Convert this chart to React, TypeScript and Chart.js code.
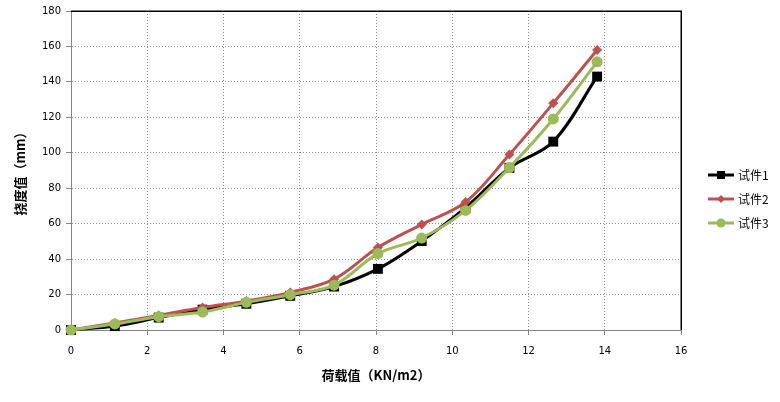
import React, { useEffect, useRef } from 'react';
import { Chart, registerables } from 'chart.js';

Chart.register(...registerables);

// ---- data ----
const loads = [0, 1.15, 2.3, 3.45, 4.6, 5.75, 6.9, 8.05, 9.2, 10.35, 11.5, 12.65, 13.8];
const seriesNames = ['试件1', '试件2', '试件3'];
const specimen1 = [0, 2.2, 7, 11.5, 14.8, 19.3, 24.5, 34.5, 50.2, 69, 91.5, 106.3, 143];
const specimen2 = [0, 4, 8.2, 12.7, 16.3, 21.2, 28.7, 46.5, 59.6, 72.2, 99, 128, 158];
const specimen3 = [0, 3.4, 7.5, 10.1, 15.6, 19.9, 25.3, 43.1, 51.9, 67.5, 91.7, 119.1, 151.3];
const xTitle = '荷载值（KN/m2）';
const yTitle = '挠度值（mm）';
const xMin = 0, xMax = 16, xStep = 2;
const yMin = 0, yMax = 180, yStep = 20;

const colors = ['#000000', '#C0504D', '#9BBB59'];
const styles = ['rect', 'rectRot', 'circle'];
const radii = [7, 5, 5.5];

const toPoints = (ys: number[]) => ys.map((y, i) => ({ x: loads[i], y }));

function drawMarker(ctx: CanvasRenderingContext2D, style: string, x: number, y: number, r: number) {
  ctx.beginPath();
  if (style === 'rect') {
    ctx.rect(x - r, y - r, 2 * r, 2 * r);
  } else if (style === 'rectRot') {
    ctx.moveTo(x, y - r);
    ctx.lineTo(x + r, y);
    ctx.lineTo(x, y + r);
    ctx.lineTo(x - r, y);
    ctx.closePath();
  } else {
    ctx.arc(x, y, r, 0, Math.PI * 2);
  }
  ctx.fill();
}

const framePlugin = {
  id: 'frame',
  beforeDatasetsDraw(chart: any) {
    const { ctx, chartArea } = chart;
    ctx.save();
    ctx.strokeStyle = '#000000';
    ctx.lineWidth = 1.5;
    ctx.beginPath();
    ctx.moveTo(chartArea.left, chartArea.top + 0.25);
    ctx.lineTo(chartArea.right + 0.25, chartArea.top + 0.25);
    ctx.lineTo(chartArea.right + 0.25, chartArea.bottom);
    ctx.stroke();
    ctx.restore();
  },
  afterDraw(chart: any) {
    const { ctx } = chart;
    const rows = [175, 199, 223];
    const markerR = [4, 4, 4.5];
    ctx.save();
    chart.data.datasets.forEach((ds: any, i: number) => {
      const y = rows[i];
      ctx.strokeStyle = ds.borderColor;
      ctx.fillStyle = ds.borderColor;
      ctx.lineWidth = 3;
      ctx.beginPath();
      ctx.moveTo(708, y);
      ctx.lineTo(734, y);
      ctx.stroke();
      drawMarker(ctx, styles[i], 721, y, markerR[i]);
      ctx.fillStyle = '#000000';
      ctx.font = '12px "Noto Sans CJK SC", "DejaVu Sans", sans-serif';
      ctx.textBaseline = 'middle';
      ctx.textAlign = 'left';
      ctx.fillText(ds.label, 738, y);
    });
    ctx.restore();
  },
};

export default function App() {
  const ref = useRef<HTMLCanvasElement | null>(null);

  useEffect(() => {
    document.body.style.margin = '0';
    const canvas = ref.current;
    if (!canvas) return;
    const series = [specimen1, specimen2, specimen3];
    const tickFont = { family: '"DejaVu Sans", Verdana, sans-serif', size: 10 };
    const titleFont = { family: '"Noto Sans CJK SC", sans-serif', size: 13, weight: 'bold' as const };
    const chart = new Chart(canvas, {
      type: 'line',
      data: {
        datasets: series.map((ys, i) => ({
          label: seriesNames[i],
          data: toPoints(ys),
          borderColor: colors[i],
          backgroundColor: colors[i],
          borderWidth: 3,
          pointStyle: styles[i] as any,
          pointRadius: radii[i],
          pointBorderWidth: 0,
          pointBackgroundColor: colors[i],
          pointBorderColor: colors[i],
          tension: 0.35,
          fill: false,
          clip: false as any,
          order: 2 - i,
        })),
      },
      options: {
        responsive: false,
        animation: false,
        events: [],
        layout: { padding: { top: 10, right: 99, left: 0, bottom: 0 } },
        plugins: {
          legend: { display: false },
          tooltip: { enabled: false },
        },
        scales: {
          x: {
            type: 'linear',
            min: xMin,
            max: xMax,
            ticks: { stepSize: xStep, color: '#000', font: tickFont, padding: 10, maxRotation: 0 },
            grid: {
              color: '#8c8c8c',
              tickColor: '#868686',
              tickLength: 5,
              tickBorderDash: [],
              borderDash: [1, 2],
            } as any,
            border: { color: '#868686', width: 1, dash: [1, 2] } as any,
            title: { display: true, text: xTitle, color: '#000', font: titleFont, padding: { top: 0, bottom: 19 } },
            afterFit: (scale: any) => { scale.height = 72; },
          },
          y: {
            type: 'linear',
            min: yMin,
            max: yMax,
            ticks: { stepSize: yStep, color: '#000', font: tickFont, padding: 5 },
            grid: {
              color: '#8c8c8c',
              tickColor: '#868686',
              tickLength: 5,
              tickBorderDash: [],
              borderDash: [1, 2],
            } as any,
            border: { color: '#868686', width: 1, dash: [1, 2] } as any,
            title: { display: true, text: yTitle, color: '#000', font: titleFont, padding: { top: 12, bottom: 0 } },
            afterFit: (scale: any) => { scale.width = 71; },
          },
        },
      },
      plugins: [framePlugin],
    });
    return () => chart.destroy();
  }, []);

  return (
    <div style={{ width: 780, height: 402, background: '#fff' }}>
      <canvas ref={ref} width={780} height={402} style={{ display: 'block' }} />
    </div>
  );
}
